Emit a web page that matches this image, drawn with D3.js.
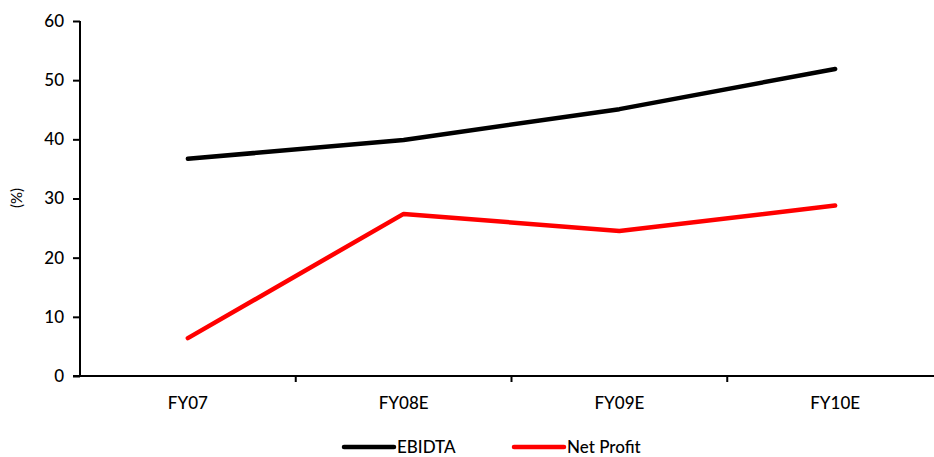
<!DOCTYPE html>
<html><head><meta charset="utf-8">
<script src="https://cdn.jsdelivr.net/npm/d3@7"></script>
<style>body{margin:0;background:#fff}svg{display:block}text{font-family:Lato,"DejaVu Sans",sans-serif;fill:#000}</style>
</head><body><svg id="c" width="934" height="457"></svg>
<script>
const categories = ["FY07","FY08E","FY09E","FY10E"];
const ebidta = [36.7, 39.9, 45.1, 51.9];
const netProfit = [6.4, 27.4, 24.5, 28.8];
const yTicks = [0,10,20,30,40,50,60];
const seriesNames = ["EBIDTA","Net Profit"];
const colors = ["#000000","#ff0000"];

const svg = d3.select("#c");
const x = d3.scaleBand().domain(categories).range([80, 943]);
const y = d3.scaleLinear().domain([0,60]).range([376, 21]);

// y axis
const ya = svg.append("g").attr("transform","translate(80,0)")
  .call(d3.axisLeft(y).tickValues(yTicks).tickSize(7).tickPadding(9));
ya.select(".domain").attr("stroke","#000").attr("stroke-width",2).attr("d","M0,377V21");
ya.selectAll(".tick line").attr("stroke","#000").attr("stroke-width",2);
ya.selectAll(".tick text").style("font-size","17px").style("font-weight","500").style("font-family","Lato, DejaVu Sans, sans-serif");

// x axis
const xa = svg.append("g").attr("transform","translate(0,376)")
  .call(d3.axisBottom(x).tickSize(0).tickPadding(21));
xa.select(".domain").attr("stroke","#000").attr("stroke-width",2).attr("d","M73,0H934");
xa.selectAll(".tick text").style("font-size","17px").style("font-weight","500").style("font-family","Lato, DejaVu Sans, sans-serif");
// boundary ticks
const bounds = categories.slice(1).map(c => x(c));
xa.selectAll(".btick").data(bounds).enter().append("line")
  .attr("x1",d=>d).attr("x2",d=>d).attr("y1",0).attr("y2",6)
  .attr("stroke","#000").attr("stroke-width",2);

// y label
svg.append("text").attr("transform","translate(22,198) rotate(-90)")
  .attr("text-anchor","middle").style("font-size","15px").text("(%)");

const line = d3.line().x((d,i)=>x(categories[i]) + x.bandwidth()/2).y(d=>y(d));
[ebidta, netProfit].forEach((s,i)=>{
  svg.append("path").attr("d", line(s)).attr("fill","none")
    .attr("stroke", colors[i]).attr("stroke-width",4.5)
    .attr("stroke-linecap","round").attr("stroke-linejoin","round");
});

// legend
const lg = [{x1:344,x2:394,tx:397},{x1:514,x2:564,tx:567}];
seriesNames.forEach((n,i)=>{
  svg.append("line").attr("x1",lg[i].x1).attr("x2",lg[i].x2).attr("y1",447).attr("y2",447)
    .attr("stroke",colors[i]).attr("stroke-width",4.5).attr("stroke-linecap","round");
  svg.append("text").attr("x",lg[i].tx).attr("y",453).style("font-size","17px").style("font-weight","500").text(n);
});
</script></body></html>
